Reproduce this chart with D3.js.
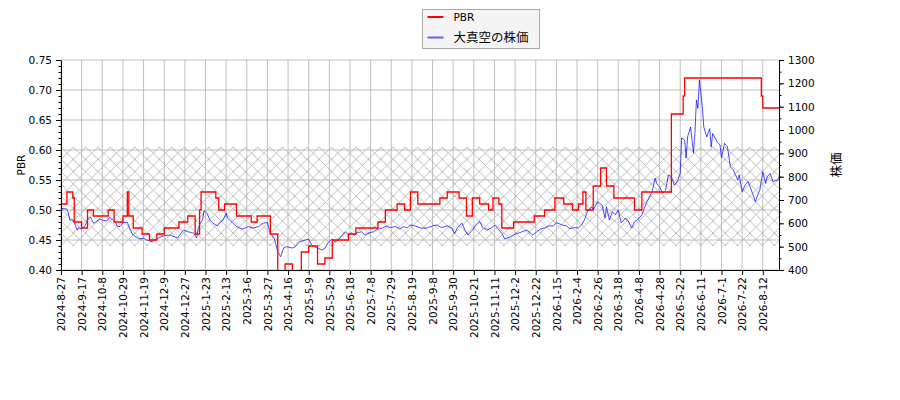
<!DOCTYPE html>
<html>
<head>
<meta charset="utf-8">
<script src="https://cdn.jsdelivr.net/npm/d3@7/dist/d3.min.js"></script>
<style>
body { margin: 0; background: #fff; }
</style>
</head>
<body>
<svg id="svg1" width="900" height="400"></svg>
<script>
// x axis labels, one every 14 trading days
var tickLabels = [
    "2024-8-27", "2024-9-17", "2024-10-8", "2024-10-29", "2024-11-19", "2024-12-9",
    "2024-12-27", "2025-1-23", "2025-2-13", "2025-3-6", "2025-3-27", "2025-4-16",
    "2025-5-9", "2025-5-29", "2025-6-18", "2025-7-8", "2025-7-29", "2025-8-19",
    "2025-9-8", "2025-9-30", "2025-10-21", "2025-11-11", "2025-12-2", "2025-12-22",
    "2026-1-15", "2026-2-4", "2026-2-26", "2026-3-18", "2026-4-8", "2026-4-28",
    "2026-5-22", "2026-6-11", "2026-7-1", "2026-7-22", "2026-8-12"
];
var tickStep = 14;
var dayCount = 488;

// PBR: trading day index where the value changes, and the new value
var pbrDays = [0, 4, 8, 9, 14, 18, 22, 32, 36, 42, 45, 46, 49, 55, 60, 65, 70, 80, 86, 91,
    94, 95, 105, 107, 111, 119, 129, 133, 142, 147, 152, 157, 163, 168, 174, 179, 184, 195,
    200, 215, 220, 228, 233, 237, 242, 257, 262, 270, 275, 279, 284, 290, 293, 297, 299, 307,
    321, 328, 335, 341, 347, 351, 354, 356, 361, 366, 370, 375, 389, 394, 414, 422, 423, 475,
    476, 487];
var pbrValues = [0.51, 0.53, 0.52, 0.48, 0.47, 0.50, 0.49, 0.50, 0.48, 0.49, 0.53, 0.49, 0.47,
    0.46, 0.45, 0.46, 0.47, 0.48, 0.49, 0.46, 0.50, 0.53, 0.52, 0.50, 0.51, 0.49, 0.48, 0.49,
    0.46, 0.38, 0.41, 0.39, 0.43, 0.44, 0.41, 0.42, 0.45, 0.46, 0.47, 0.48, 0.50, 0.51, 0.50,
    0.53, 0.51, 0.52, 0.53, 0.52, 0.49, 0.52, 0.51, 0.50, 0.52, 0.51, 0.47, 0.48, 0.49, 0.50,
    0.52, 0.51, 0.50, 0.51, 0.53, 0.50, 0.54, 0.57, 0.54, 0.52, 0.50, 0.53, 0.66, 0.69, 0.72,
    0.69, 0.67, 0.67];

// share price (yen) read at these trading day indexes
var priceDays = [0, 1, 4, 5, 6, 8, 9, 11, 12, 14, 16, 18, 20, 22, 23, 26, 28, 31, 33, 35, 37,
    38, 40, 42, 45, 46, 48, 49, 52, 54, 56, 58, 62, 65, 69, 74, 79, 83, 86, 90, 92, 93, 94, 96,
    97, 99, 101, 103, 106, 108, 110, 112, 113, 116, 119, 123, 127, 130, 134, 137, 140, 142,
    145, 147, 149, 151, 153, 157, 159, 161, 162, 166, 168, 170, 174, 177, 179, 181, 184, 186,
    188, 191, 193, 195, 197, 199, 201, 204, 206, 208, 212, 215, 218, 221, 223, 227, 230, 232,
    235, 237, 240, 244, 248, 252, 255, 258, 262, 265, 267, 269, 272, 274, 276, 279, 281, 284,
    286, 289, 292, 294, 296, 299, 301, 305, 308, 311, 316, 320, 325, 328, 331, 334, 336, 340,
    343, 345, 347, 351, 353, 355, 357, 360, 361, 364, 367, 369, 370, 372, 374, 376, 378, 380,
    383, 385, 387, 389, 391, 394, 396, 398, 401, 403, 404, 406, 408, 410, 412, 414, 416, 418,
    420, 421, 423, 424, 425, 427, 429, 430, 431, 432, 433, 435, 436, 438, 440, 441, 442, 445,
    447, 448, 450, 452, 454, 456, 459, 460, 462, 464, 466, 469, 471, 473, 474, 476, 478, 479,
    481, 483, 486, 487];
var priceValues = [644, 664, 661, 644, 614, 614, 603, 571, 581, 577, 586, 614, 627, 601, 603,
    618, 614, 610, 627, 614, 605, 589, 586, 603, 605, 586, 558, 550, 537, 533, 537, 529, 521,
    533, 546, 550, 537, 571, 564, 558, 537, 577, 597, 614, 654, 644, 614, 601, 589, 603, 614,
    644, 622, 605, 586, 575, 586, 580, 586, 601, 603, 558, 529, 478, 457, 494, 500, 494, 500,
    516, 521, 529, 533, 507, 493, 486, 493, 516, 533, 521, 529, 550, 564, 550, 560, 550, 560,
    564, 550, 557, 564, 575, 580, 589, 582, 586, 575, 586, 580, 593, 589, 580, 580, 589, 593,
    582, 589, 580, 557, 582, 601, 571, 550, 571, 589, 607, 582, 571, 580, 593, 580, 557, 533,
    543, 554, 560, 571, 550, 575, 580, 589, 589, 603, 593, 589, 577, 581, 581, 593, 614, 650,
    671, 657, 693, 678, 623, 671, 614, 650, 636, 657, 601, 623, 607, 580, 607, 614, 636, 671,
    700, 736, 794, 771, 757, 729, 740, 807, 800, 764, 779, 814, 966, 957, 880, 970, 1013, 901,
    990, 1129, 1093, 1214, 1100, 1013, 970, 1006, 927, 985, 950, 936, 880, 943, 929, 843, 829,
    786, 807, 736, 764, 779, 729, 693, 729, 743, 821, 771, 800, 814, 779, 786, 800];

var bandLow = 0.44;
var bandHigh = 0.605;

var svg1 = d3.select("#svg1");
var plotLeft = 61, plotRight = 779, plotTop = 60, plotBottom = 270;

var x = d3.scaleLinear().domain([0, dayCount - 1]).range([plotLeft, plotRight]);
var yL = d3.scaleLinear().domain([0.40, 0.75]).range([plotBottom, plotTop]);
var yR = d3.scaleLinear().domain([400, 1300]).range([plotBottom, plotTop]);

var tickDays = tickLabels.map(function (d, i) { return i * tickStep; });
var pbrTicks = d3.range(8).map(function (i) { return 0.40 + i * 0.05; });
var pbrMinor = d3.range(36).map(function (i) { return 0.40 + i * 0.01; });
var priceTicks = d3.range(400, 1301, 100);
var priceMinor = d3.range(400, 1301, 50);

var defs = svg1.append("defs");
var s = 12.3;
var hatch = defs.append("pattern")
    .attr("id", "hatch")
    .attr("patternUnits", "userSpaceOnUse")
    .attr("x", plotLeft)
    .attr("y", yL(bandHigh))
    .attr("width", s)
    .attr("height", s);
hatch.append("path")
    .attr("d", "M-1,-1L" + (s + 1) + "," + (s + 1) + "M-1," + (s + 1) + "L" + (s + 1) + ",-1")
    .attr("stroke", "#a0a0a0")
    .attr("stroke-width", 0.7)
    .attr("fill", "none");

defs.append("clipPath")
    .attr("id", "plotclip")
    .append("rect")
    .attr("x", plotLeft)
    .attr("y", plotTop)
    .attr("width", plotRight - plotLeft)
    .attr("height", plotBottom - plotTop);

// hatched band
svg1.append("rect")
    .attr("x", plotLeft)
    .attr("y", yL(bandHigh))
    .attr("width", plotRight - plotLeft)
    .attr("height", yL(bandLow) - yL(bandHigh))
    .attr("fill", "url(#hatch)");

// grid
var grid = svg1.append("g")
    .attr("stroke", "#b0b0b0")
    .attr("stroke-width", 0.8);
grid.selectAll("line.v")
    .data(tickDays)
    .enter()
    .append("line")
    .attr("class", "v")
    .attr("x1", function (d) { return x(d); })
    .attr("x2", function (d) { return x(d); })
    .attr("y1", plotTop)
    .attr("y2", plotBottom);
grid.selectAll("line.h")
    .data(pbrTicks)
    .enter()
    .append("line")
    .attr("class", "h")
    .attr("x1", plotLeft)
    .attr("x2", plotRight)
    .attr("y1", function (d) { return yL(d); })
    .attr("y2", function (d) { return yL(d); });

var plot = svg1.append("g").attr("clip-path", "url(#plotclip)");

var priceLine = d3.line()
    .x(function (d, i) { return x(priceDays[i]); })
    .y(function (d) { return yR(d); });

plot.append("path")
    .datum(priceValues)
    .attr("fill", "none")
    .attr("stroke", "#0000ff")
    .attr("stroke-opacity", 0.7)
    .attr("stroke-width", 1)
    .attr("d", priceLine);

var pbrLine = d3.line()
    .curve(d3.curveStepAfter)
    .x(function (d, i) { return x(pbrDays[i]); })
    .y(function (d) { return yL(d); });

plot.append("path")
    .datum(pbrValues)
    .attr("fill", "none")
    .attr("stroke", "#ff0000")
    .attr("stroke-width", 1.3)
    .attr("d", pbrLine);

var font = "'DejaVu Sans', 'Noto Sans CJK JP', sans-serif";

// axes
var gx = svg1.append("g")
    .attr("transform", "translate(0," + plotBottom + ")")
    .call(d3.axisBottom(x)
        .tickValues(tickDays)
        .tickFormat(function (d, i) { return tickLabels[i]; })
        .tickSize(5)
        .tickSizeOuter(0));
gx.selectAll("text")
    .attr("y", 0)
    .attr("x", -7)
    .attr("dy", "0.35em")
    .attr("transform", "rotate(-90)")
    .style("text-anchor", "end");

svg1.append("g")
    .attr("transform", "translate(" + plotLeft + ",0)")
    .call(d3.axisLeft(yL)
        .tickValues(pbrTicks)
        .tickFormat(d3.format(".2f"))
        .tickSize(5)
        .tickPadding(4)
        .tickSizeOuter(0));
svg1.append("g")
    .attr("transform", "translate(" + plotLeft + ",0)")
    .call(d3.axisLeft(yL).tickValues(pbrMinor).tickFormat("").tickSize(2.5).tickSizeOuter(0))
    .select(".domain").remove();

svg1.append("g")
    .attr("transform", "translate(" + plotRight + ",0)")
    .call(d3.axisRight(yR)
        .tickValues(priceTicks)
        .tickFormat(d3.format("d"))
        .tickSize(5)
        .tickPadding(4)
        .tickSizeOuter(0));
svg1.append("g")
    .attr("transform", "translate(" + plotRight + ",0)")
    .call(d3.axisRight(yR).tickValues(priceMinor).tickFormat("").tickSize(2.5).tickSizeOuter(0))
    .select(".domain").remove();

svg1.selectAll(".tick text")
    .attr("font-family", font)
    .attr("font-size", 10.5)
    .attr("fill", "#000");
svg1.selectAll(".domain, .tick line").attr("stroke", "#000");

svg1.append("text")
    .attr("transform", "translate(25," + (plotTop + plotBottom) / 2 + ") rotate(-90)")
    .attr("text-anchor", "middle")
    .attr("font-family", font)
    .attr("font-size", 10.5)
    .text("PBR");

svg1.append("text")
    .attr("transform", "translate(841," + (plotTop + plotBottom) / 2 + ") rotate(-90)")
    .attr("text-anchor", "middle")
    .attr("font-family", "'Noto Sans CJK JP', sans-serif")
    .attr("font-size", 12.5)
    .text("株価");

// legend
var legend = svg1.append("g").attr("transform", "translate(422.5,9.5)");
legend.append("rect")
    .attr("width", 117)
    .attr("height", 39)
    .attr("fill", "#f4f4f4")
    .attr("stroke", "#a8a8a8")
    .attr("stroke-width", 1);
var items = [
    {name: "PBR", color: "#ff0000", opacity: 1, fam: font},
    {name: "大真空の株価", color: "#0000ff", opacity: 0.6, fam: "'Noto Sans CJK JP', sans-serif"}
];
var li = legend.selectAll("g.item")
    .data(items)
    .enter()
    .append("g")
    .attr("class", "item")
    .attr("transform", function (d, i) { return "translate(0," + (7.5 + i * 20.5) + ")"; });
li.append("line")
    .attr("x1", 5)
    .attr("x2", 21)
    .attr("stroke", function (d) { return d.color; })
    .attr("stroke-opacity", function (d) { return d.opacity; })
    .attr("stroke-width", 2);
li.append("text")
    .attr("x", 31)
    .attr("dy", "0.35em")
    .attr("font-family", function (d) { return d.fam; })
    .attr("font-size", function (d, i) { return i == 0 ? 10.5 : 12.5; })
    .text(function (d) { return d.name; });
</script>
</body>
</html>
